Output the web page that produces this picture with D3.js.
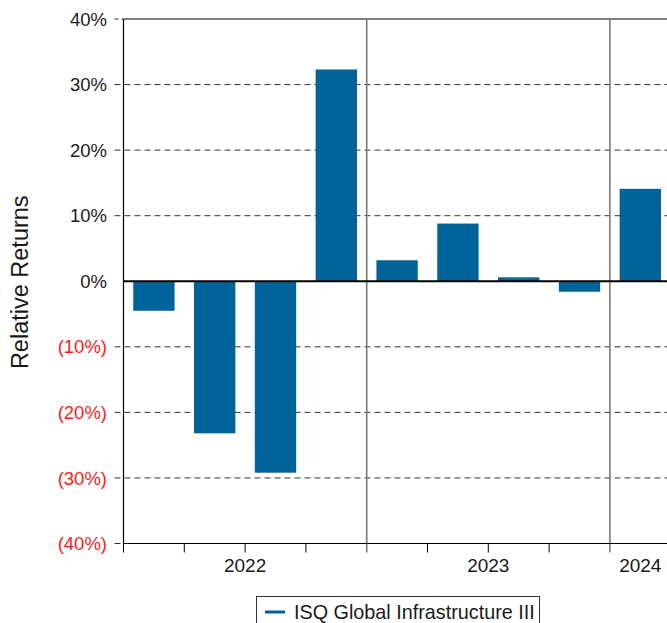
<!DOCTYPE html>
<html>
<head>
<meta charset="utf-8">
<script src="https://cdn.jsdelivr.net/npm/d3@7"></script>
<style>
  body { margin: 0; background: #fff; }
  svg { display: block; font-family: Arial, "Liberation Sans", sans-serif; }
</style>
</head>
<body>
<div id="chart"></div>
<script>
// quarters shown on the x axis
const quarters = ["2022Q1", "2022Q2", "2022Q3", "2022Q4", "2023Q1", "2023Q2", "2023Q3", "2023Q4", "2024Q1"]
const returns = [-4.5, -23.2, -29.2, 32.3, 3.2, 8.8, 0.6, -1.6, 14.1]
const years = ["2022", "2023", "2024"]
const yTicks = [40, 30, 20, 10, 0, -10, -20, -30, -40]
const seriesName = "ISQ Global Infrastructure III"

const width = 667
const height = 623
const plotLeft = 123.5
const plotTop = 19
const plotBottom = 543.5
const barColor = "#00649a"

const svg = d3.select("#chart").append("svg")
  .attr("width", width)
  .attr("height", height)

// band scale runs a little past the right edge, like the original
const x = d3.scaleBand()
  .domain(quarters)
  .range([plotLeft, plotLeft + quarters.length * 60.8])
  .paddingInner(0.32)
  .paddingOuter(0.16)

const y = d3.scaleLinear().domain([-40, 40]).range([plotBottom, plotTop])

const fmt = v => v < 0 ? `(${Math.abs(v)}%)` : `${v}%`
const qStart = q => x(q) - x.step() * 0.16

// dashed grid lines (they poke out left of the axis)
svg.append("g")
  .selectAll("line")
  .data(yTicks.filter(d => d !== 0 && d !== 40))
  .enter()
  .append("line")
  .attr("x1", plotLeft - 9)
  .attr("x2", width)
  .attr("y1", d => y(d))
  .attr("y2", d => y(d))
  .attr("stroke", "#333")
  .attr("stroke-width", 1)
  .attr("stroke-dasharray", "6,4")

// top border
svg.append("line")
  .attr("x1", plotLeft).attr("x2", width)
  .attr("y1", y(40)).attr("y2", y(40))
  .attr("stroke", "#555").attr("stroke-width", 1.5)
svg.append("line")
  .attr("x1", plotLeft - 9).attr("x2", plotLeft)
  .attr("y1", y(40)).attr("y2", y(40))
  .attr("stroke", "#333").attr("stroke-dasharray", "4,3")

// year separators
const yearStarts = quarters.filter(q => q.endsWith("Q1")).slice(1)
svg.append("g")
  .selectAll("line")
  .data(yearStarts)
  .enter()
  .append("line")
  .attr("x1", d => qStart(d))
  .attr("x2", d => qStart(d))
  .attr("y1", plotTop)
  .attr("y2", plotBottom + 9)
  .attr("stroke", "#7a7a7a")
  .attr("stroke-width", 1.6)

// bars
svg.append("g")
  .selectAll("rect")
  .data(quarters.map((q, i) => ({ q, v: returns[i] })))
  .enter()
  .append("rect")
  .attr("x", d => x(d.q))
  .attr("y", d => y(Math.max(0, d.v)))
  .attr("width", x.bandwidth())
  .attr("height", d => Math.abs(y(d.v) - y(0)))
  .attr("fill", barColor)

// zero line
svg.append("line")
  .attr("x1", plotLeft).attr("x2", width)
  .attr("y1", y(0)).attr("y2", y(0))
  .attr("stroke", "#000").attr("stroke-width", 2)

// y axis
svg.append("line")
  .attr("x1", plotLeft).attr("x2", plotLeft)
  .attr("y1", plotTop).attr("y2", plotBottom)
  .attr("stroke", "#000").attr("stroke-width", 1.2)

svg.append("g")
  .selectAll("text")
  .data(yTicks)
  .enter()
  .append("text")
  .attr("x", 107)
  .attr("y", d => y(d))
  .attr("dy", "0.36em")
  .attr("text-anchor", "end")
  .attr("font-size", "18.5px")
  .attr("fill", d => d < 0 ? "#ff1a1a" : "#1a1a1a")
  .text(fmt)

// x axis
svg.append("line")
  .attr("x1", plotLeft).attr("x2", width)
  .attr("y1", plotBottom).attr("y2", plotBottom)
  .attr("stroke", "#000").attr("stroke-width", 1.2)

svg.append("g")
  .selectAll("line")
  .data(quarters.filter(q => !yearStarts.includes(q)))
  .enter()
  .append("line")
  .attr("x1", d => qStart(d)).attr("x2", d => qStart(d))
  .attr("y1", plotBottom).attr("y2", plotBottom + 9)
  .attr("stroke", "#000").attr("stroke-width", 1)

svg.append("g")
  .selectAll("text")
  .data(years)
  .enter()
  .append("text")
  .attr("x", yr => {
    const qs = quarters.filter(q => q.startsWith(yr))
    const a = qStart(qs[0])
    const b = qStart(qs[qs.length - 1]) + x.step()
    return (a + b) / 2
  })
  .attr("y", 572)
  .attr("text-anchor", "middle")
  .attr("font-size", "19px")
  .attr("fill", "#1a1a1a")
  .text(d => d)

// axis title
svg.append("text")
  .attr("transform", `translate(28, ${y(0) + 1}) rotate(-90)`)
  .attr("text-anchor", "middle")
  .attr("font-size", "23.5px")
  .attr("fill", "#1a1a1a")
  .text("Relative Returns")

// legend
const legend = svg.append("g")
legend.append("rect")
  .attr("x", 256.5).attr("y", 596.5)
  .attr("width", 283).attr("height", 40)
  .attr("fill", "#fff").attr("stroke", "#333").attr("stroke-width", 1)
legend.append("line")
  .attr("x1", 265).attr("x2", 285)
  .attr("y1", 612).attr("y2", 612)
  .attr("stroke", barColor).attr("stroke-width", 3)
legend.append("text")
  .attr("x", 294).attr("y", 619)
  .attr("font-size", "19.8px")
  .attr("fill", "#1a1a1a")
  .text(seriesName)
</script>
</body>
</html>
